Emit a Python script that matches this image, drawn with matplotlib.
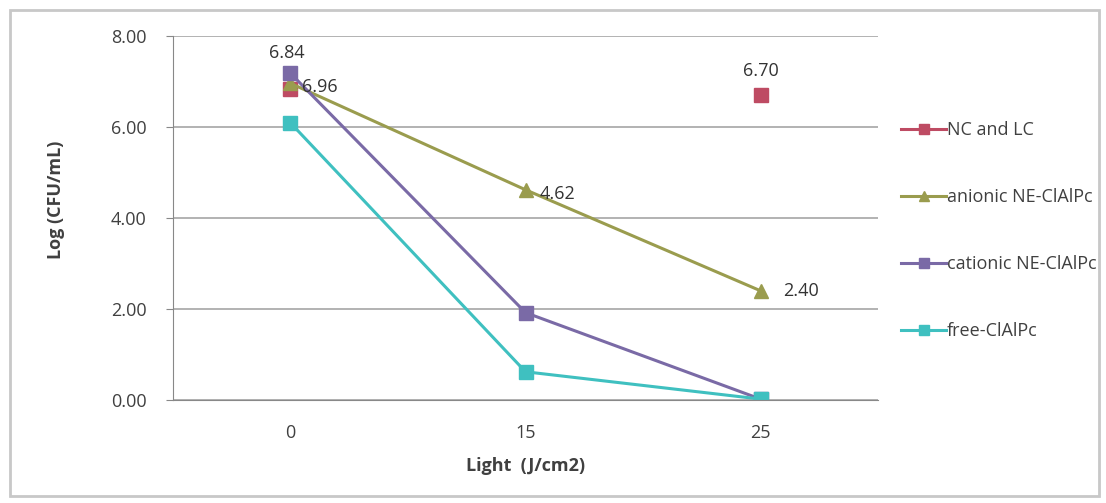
import numpy as np
import matplotlib.pyplot as plt
from matplotlib.patches import Rectangle

plt.rcParams['font.family'] = ['Open Sans', 'DejaVu Sans']

categories = ['0', '15', '25']
nc_lc = [6.84, np.nan, 6.70]
anionic = [6.96, 4.62, 2.40]
cationic = [7.18, 1.92, 0.02]
free = [6.09, 0.62, 0.02]

series = [
    ('NC and LC', nc_lc, '#BE4B63', 's'),
    ('anionic NE-ClAlPc', anionic, '#9A9C4E', '^'),
    ('cationic NE-ClAlPc', cationic, '#7A6AA6', 's'),
    ('free-ClAlPc', free, '#3FC0C0', 's'),
]

fig = plt.figure(figsize=(11.06, 5.03), dpi=100)
fig.patches.append(Rectangle((0.009, 0.014), 0.985, 0.966, transform=fig.transFigure,
                             fill=False, edgecolor='#C8C8C8', linewidth=2))
ax = fig.add_axes([0.1564, 0.2048, 0.6375, 0.7236])

x = np.arange(len(categories))
for name, vals, color, mk in series:
    ax.plot(x, vals, color=color, marker=mk, markersize=10, linewidth=2.2,
            markeredgecolor=color, label=name)

# data labels
lab = dict(fontsize=13, color='#333333')
ax.annotate('6.84', (0, nc_lc[0]), xytext=(-3, 22), textcoords='offset points',
            ha='center', **lab)
ax.annotate('6.96', (0, anionic[0]), xytext=(8, -3), textcoords='offset points',
            ha='left', va='center', **lab)
ax.annotate('4.62', (1, anionic[1]), xytext=(10, -3), textcoords='offset points',
            ha='left', va='center', **lab)
ax.annotate('2.40', (2, anionic[2]), xytext=(16, 0), textcoords='offset points',
            ha='left', va='center', **lab)
ax.annotate('6.70', (2, nc_lc[2]), xytext=(0, 11), textcoords='offset points',
            ha='center', va='bottom', **lab)

ax.set_xlim(-0.5, 2.5)
ax.set_ylim(0, 8)
ax.set_yticks(np.arange(0, 8.01, 2))
ax.set_yticklabels([f'{v:.2f}' for v in np.arange(0, 8.01, 2)], fontsize=13, color='#404040')
ax.set_xticks(x)
ax.set_xticklabels(categories, fontsize=13, color='#404040')
ax.tick_params(axis='x', length=0, pad=17)
ax.tick_params(axis='y', length=5, color='#888888', pad=14)
ax.grid(axis='y', color='#A6A6A6', linewidth=1.2)
ax.set_axisbelow(True)
for s in ['top', 'right']:
    ax.spines[s].set_visible(False)
for s in ['left', 'bottom']:
    ax.spines[s].set_color('#888888')

ax.set_ylabel('Log (CFU/mL)', fontsize=13, fontweight='bold', color='#404040')
ax.yaxis.set_label_coords(-0.153, 0.55)
ax.set_xlabel('Light  (J/cm2)', fontsize=13, fontweight='bold', color='#404040')
ax.xaxis.set_label_coords(0.5, -0.158)

fig.legend(loc='upper left', bbox_to_anchor=(0.800, 0.792), frameon=False,
           fontsize=13, labelspacing=2.72, handlelength=2.5, handletextpad=0.05,
           markerscale=0.7, labelcolor='#404040')

fig.savefig('out.png', dpi=100)
